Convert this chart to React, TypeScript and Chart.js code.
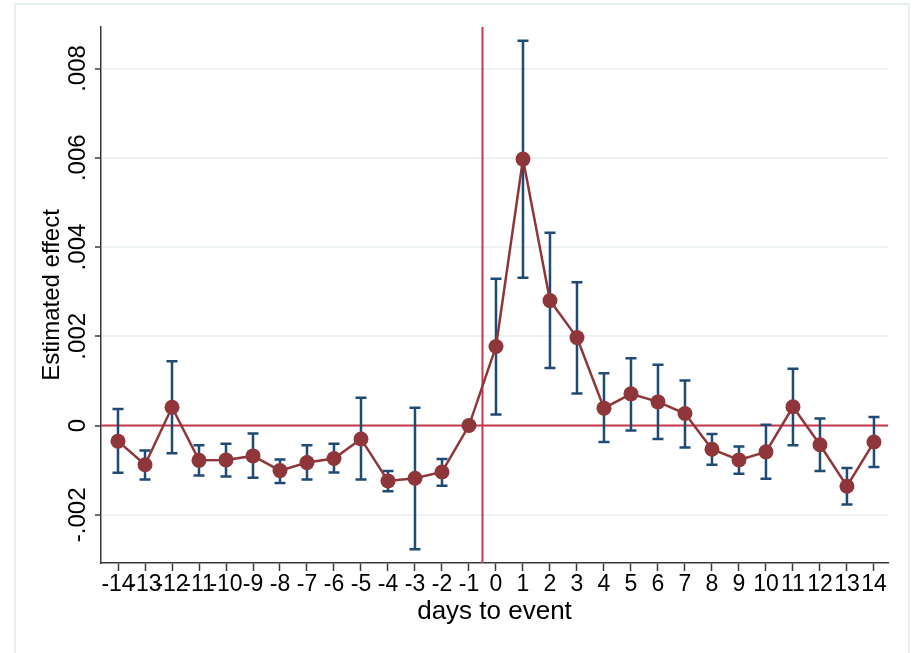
import { useEffect, useRef } from "react";
import { Chart, registerables } from "chart.js";

Chart.register(...registerables);

// Event-time coefficients with 95% confidence intervals
const days = [-14, -13, -12, -11, -10, -9, -8, -7, -6, -5, -4, -3, -2, -1, 0, 1, 2, 3, 4, 5, 6, 7, 8, 9, 10, 11, 12, 13, 14];
const estimates = [
  -0.00035, -0.00088, 0.00041, -0.00078, -0.00077, -0.00068, -0.00101, -0.00083, -0.00074, -0.0003,
  -0.00124, -0.00118, -0.00104, 0, 0.00177, 0.00597, 0.0028, 0.00197, 0.00039, 0.00071,
  0.00053, 0.00027, -0.00053, -0.00077, -0.00059, 0.00042, -0.00043, -0.00136, -0.00037,
];
const upper = [
  0.00037, -0.00056, 0.00144, -0.00044, -0.00041, -0.00018, -0.00076, -0.00044, -0.00041, 0.00062,
  -0.00102, 0.0004, -0.00075, 0, 0.00329, 0.00862, 0.00432, 0.00321, 0.00117, 0.00151,
  0.00136, 0.00101, -0.00019, -0.00047, 0.00002, 0.00127, 0.00016, -0.00095, 0.00019,
];
const lower = [
  -0.00106, -0.00121, -0.00062, -0.00112, -0.00114, -0.00117, -0.00129, -0.00121, -0.00105, -0.00121,
  -0.00147, -0.00277, -0.00135, 0, 0.00025, 0.00331, 0.00129, 0.00072, -0.00037, -0.00011,
  -0.0003, -0.00049, -0.00088, -0.00108, -0.00119, -0.00044, -0.00102, -0.00177, -0.00093,
];

const yTickValues = [-0.002, 0, 0.002, 0.004, 0.006, 0.008];
const yTickLabels = ["-.002", "0", ".002", ".004", ".006", ".008"];
const eventLine = -0.5;
const xRange = [-14.63, 14.52];
const yRange = [-0.00308, 0.00893];
const xTitle = "days to event";
const yTitle = "Estimated effect";

const FONT = '"Liberation Sans", Arial, Helvetica, sans-serif';
const markerColor = "#8f363b";
const ciColor = "#1f4a76";
const refColor = "#c6394b";
const axisColor = "#383838";
const gridColor = "#edf2f4";

const decorations = {
  id: "decorations",
  beforeDraw(chart: any) {
    const ctx = chart.ctx;
    ctx.save();
    ctx.strokeStyle = "#e7eef1";
    ctx.lineWidth = 2;
    ctx.strokeRect(15, 4, 894, 700);
    ctx.restore();
  },
  beforeDatasetsDraw(chart: any) {
    const { ctx, chartArea, scales } = chart;
    const x = scales.x;
    const y = scales.y;
    ctx.save();
    // reference lines at zero effect and at the event
    ctx.strokeStyle = refColor;
    ctx.lineWidth = 2;
    const y0 = y.getPixelForValue(0);
    ctx.beginPath();
    ctx.moveTo(chartArea.left, y0);
    ctx.lineTo(chartArea.right, y0);
    ctx.stroke();
    const xe = x.getPixelForValue(eventLine);
    ctx.beginPath();
    ctx.moveTo(xe, chartArea.top);
    ctx.lineTo(xe, chartArea.bottom);
    ctx.stroke();
    // confidence interval caps
    ctx.strokeStyle = ciColor;
    ctx.lineWidth = 2.5;
    const cap = 5.5;
    days.forEach((d, i) => {
      if (upper[i] === lower[i]) return;
      const px = x.getPixelForValue(d);
      const pu = y.getPixelForValue(upper[i]);
      const pl = y.getPixelForValue(lower[i]);
      ctx.beginPath();
      ctx.moveTo(px, pu);
      ctx.lineTo(px, pl);
      ctx.moveTo(px - cap, pu);
      ctx.lineTo(px + cap, pu);
      ctx.moveTo(px - cap, pl);
      ctx.lineTo(px + cap, pl);
      ctx.stroke();
    });
    ctx.restore();
  },
  afterDraw(chart: any) {
    const { ctx, chartArea, scales } = chart;
    const y = scales.y;
    ctx.save();
    ctx.fillStyle = "#000";
    ctx.textAlign = "center";
    ctx.textBaseline = "alphabetic";
    ctx.font = `24px ${FONT}`;
    yTickValues.forEach((v, i) => {
      const py = y.getPixelForValue(v);
      ctx.save();
      ctx.translate(85, py);
      ctx.rotate(-Math.PI / 2);
      ctx.fillText(yTickLabels[i], 0, 0);
      ctx.restore();
    });
    ctx.font = `24px ${FONT}`;
    ctx.save();
    ctx.translate(59, (chartArea.top + chartArea.bottom) / 2);
    ctx.rotate(-Math.PI / 2);
    ctx.fillText(yTitle, 0, 0);
    ctx.restore();
    ctx.font = `26px ${FONT}`;
    ctx.fillText(xTitle, (chartArea.left + chartArea.right) / 2, 619);
    ctx.restore();
  },
};

export default function App() {
  const canvasRef = useRef<HTMLCanvasElement | null>(null);

  useEffect(() => {
    const canvas = canvasRef.current;
    if (!canvas) return;
    const chart = new Chart(canvas, {
      type: "scatter",
      data: {
        datasets: [
          {
            data: days.map((d, i) => ({ x: d, y: estimates[i] })),
            showLine: true,
            borderColor: markerColor,
            borderWidth: 2.5,
            pointRadius: 7.5,
            pointBackgroundColor: markerColor,
            pointBorderColor: markerColor,
            pointBorderWidth: 0,
          },
        ],
      },
      options: {
        responsive: false,
        animation: false,
        layout: { padding: { left: 0, right: 28, top: 27, bottom: 0 } },
        plugins: { legend: { display: false }, tooltip: { enabled: false } },
        scales: {
          x: {
            type: "linear",
            min: xRange[0],
            max: xRange[1],
            afterBuildTicks: (scale: any) => {
              scale.ticks = days.map((d) => ({ value: d }));
            },
            afterFit: (scale: any) => {
              scale.height = 90;
            },
            border: { color: axisColor, width: 1.5 },
            grid: {
              drawOnChartArea: false,
              drawTicks: true,
              tickLength: 8,
              tickColor: axisColor,
              tickWidth: 1.5,
            },
            ticks: {
              autoSkip: false,
              maxRotation: 0,
              minRotation: 0,
              padding: 0,
              color: "#000",
              font: { family: FONT, size: 23 },
              callback: (_v: any, i: number) => String(days[i]),
            },
          },
          y: {
            type: "linear",
            min: yRange[0],
            max: yRange[1],
            afterBuildTicks: (scale: any) => {
              scale.ticks = yTickValues.map((v) => ({ value: v }));
            },
            afterFit: (scale: any) => {
              scale.width = 101;
            },
            border: { color: axisColor, width: 1.5 },
            grid: {
              color: gridColor,
              lineWidth: 2,
              drawTicks: true,
              tickLength: 6,
              tickColor: axisColor,
              tickWidth: 1.5,
            },
            ticks: { display: false },
          },
        },
      },
      plugins: [decorations],
    });
    return () => chart.destroy();
  }, []);

  return (
    <div style={{ position: "fixed", left: 0, top: 0, width: 916, height: 653, background: "#fff" }}>
      <canvas ref={canvasRef} width={916} height={653} style={{ display: "block" }} />
    </div>
  );
}
